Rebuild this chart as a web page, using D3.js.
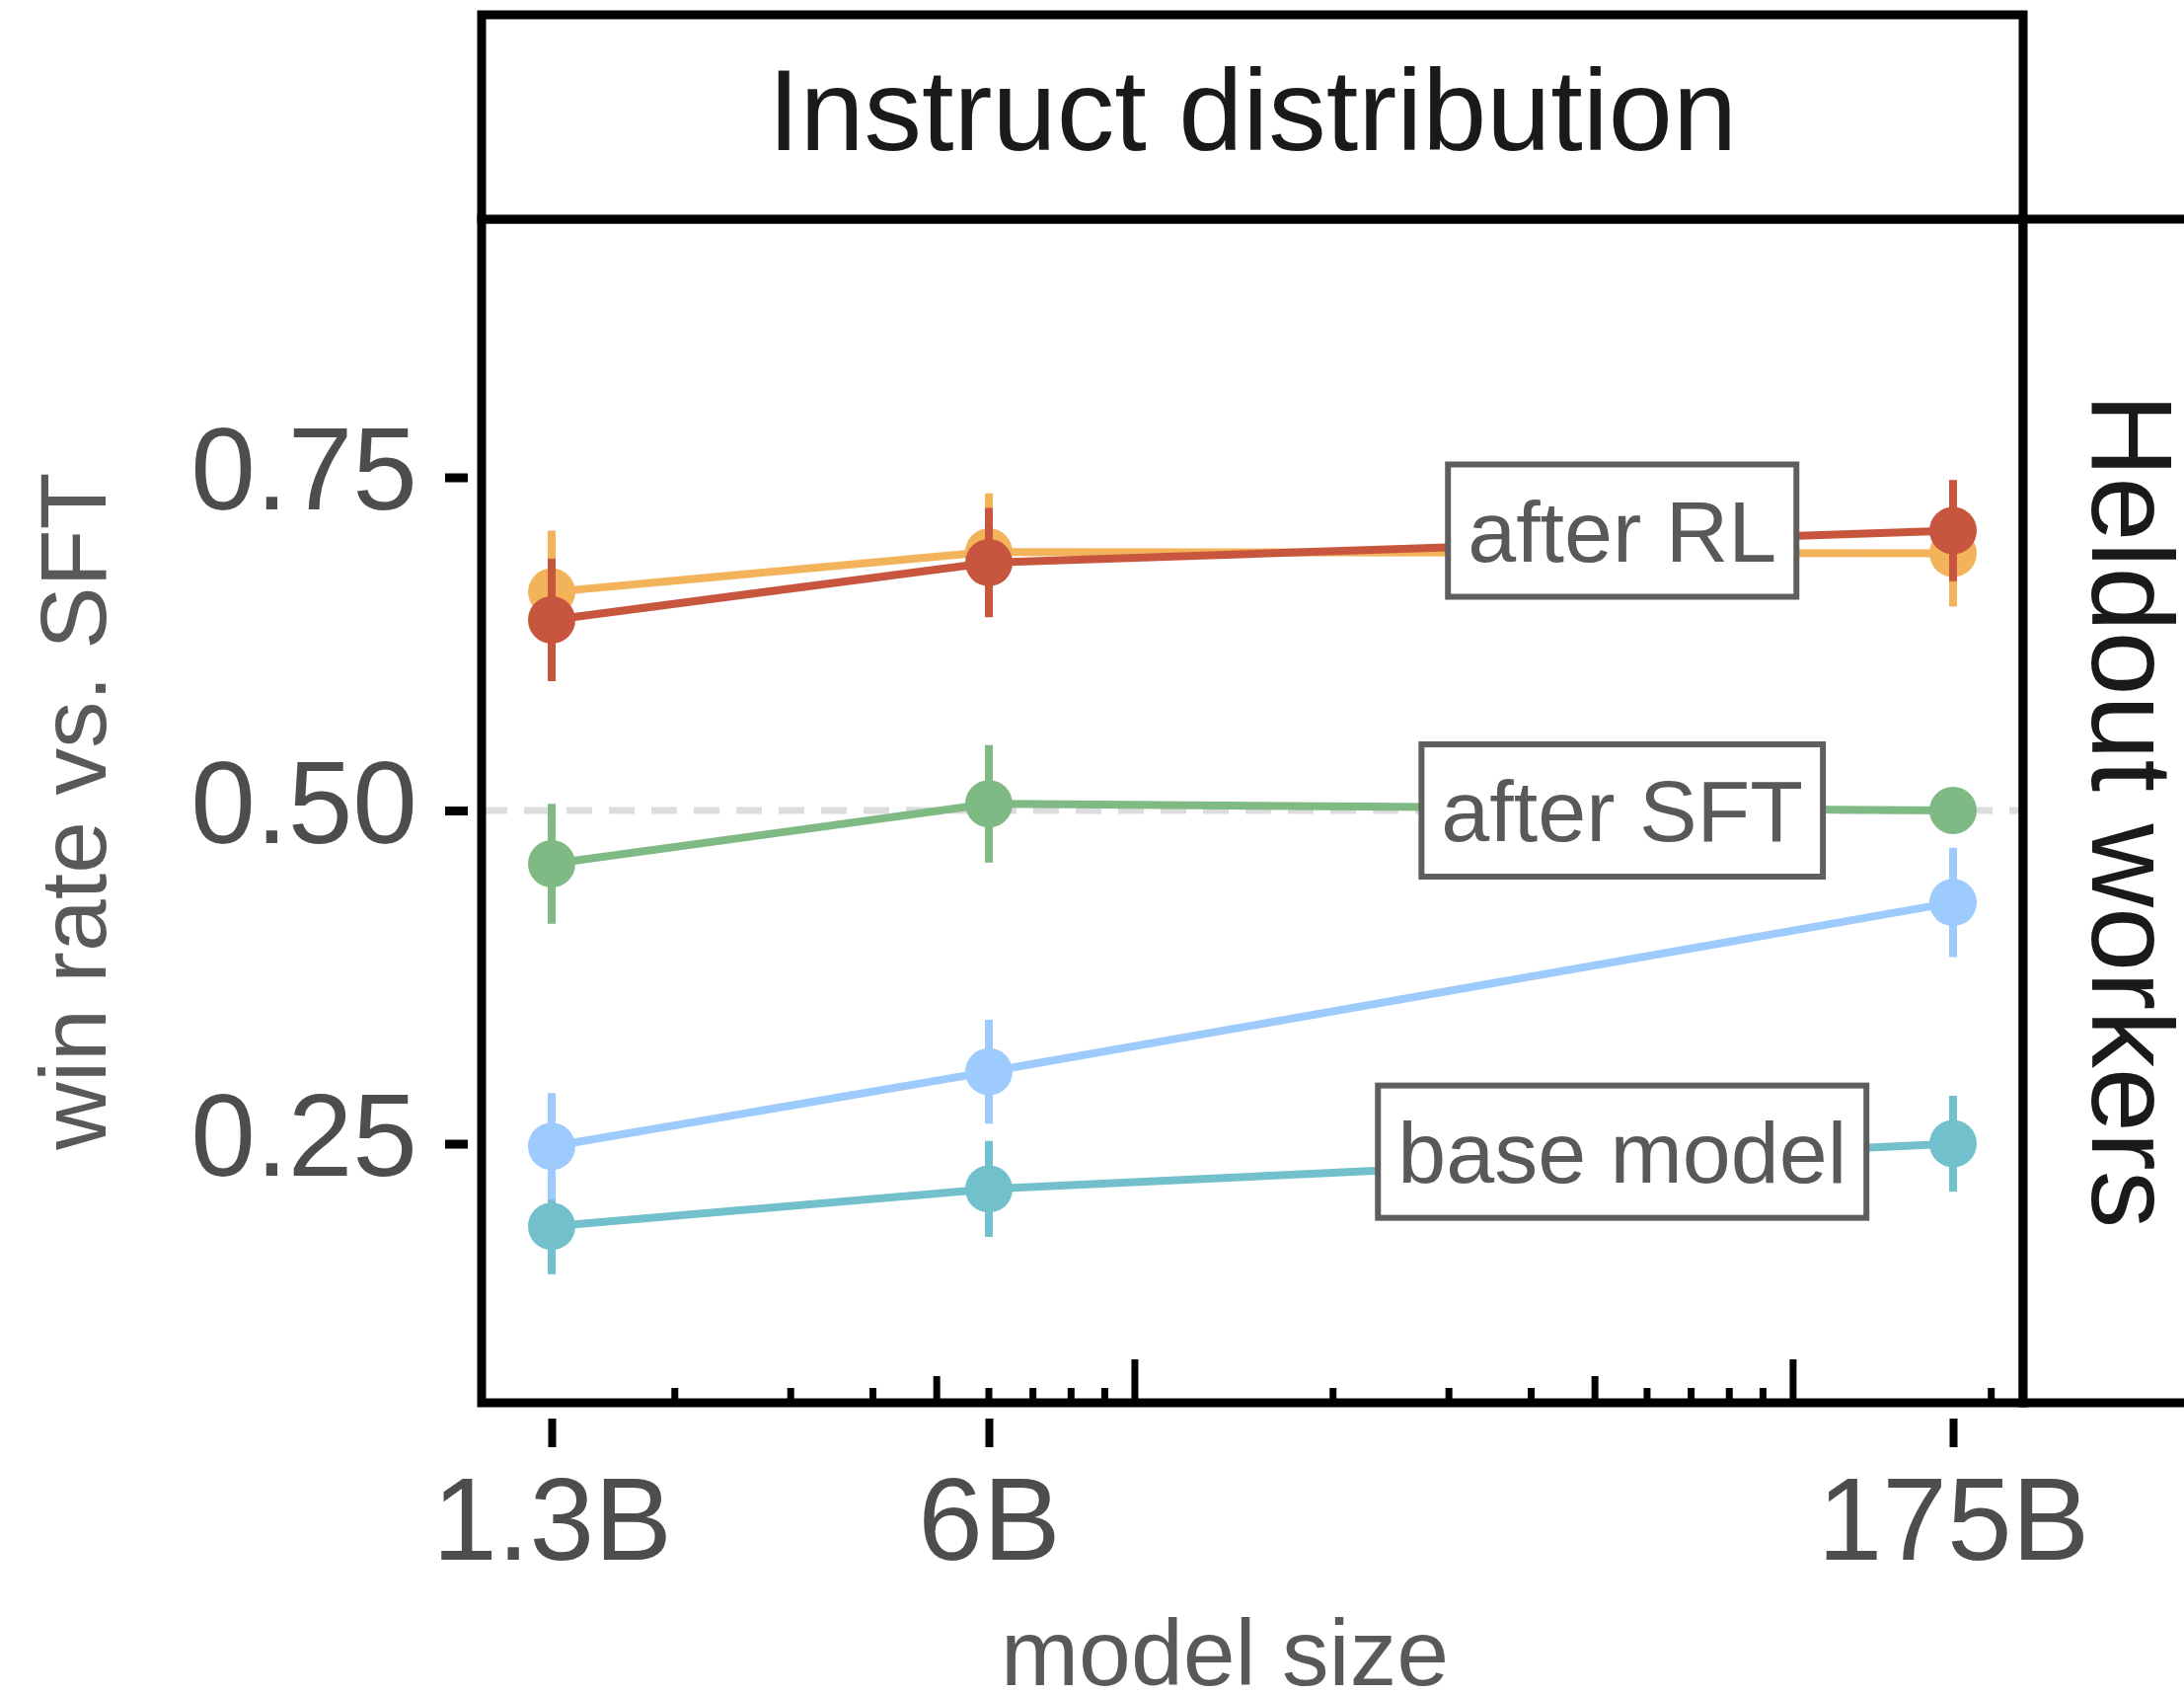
<!DOCTYPE html>
<html>
<head>
<meta charset="utf-8">
<script src="https://cdn.jsdelivr.net/npm/d3@7"></script>
<style>
  body { margin: 0; background: #fff; }
  svg text { font-family: "Liberation Sans", Arial, Helvetica, sans-serif; }
</style>
</head>
<body>
<div id="chart"></div>
<script>
// model sizes on the x axis
var sizes = [1.3e9, 6e9, 175e9];
var sizeLabels = ["1.3B", "6B", "175B"];

// win rate vs. SFT, with error bar half widths
var seriesNames = ["GPT", "GPT (prompted)", "SFT", "PPO-ptx", "PPO"];
var gptWin      = [0.188, 0.216, 0.250];
var gptErr      = [0.036, 0.036, 0.036];
var promptedWin = [0.248, 0.304, 0.431];
var promptedErr = [0.040, 0.039, 0.041];
var sftWin      = [0.460, 0.505, 0.500];
var sftErr      = [0.045, 0.044, 0.000];
var ptxWin      = [0.664, 0.694, 0.693];
var ptxErr      = [0.046, 0.044, 0.040];
var ppoWin      = [0.643, 0.686, 0.710];
var ppoErr      = [0.046, 0.041, 0.038];

var yTicks = [0.25, 0.50, 0.75];

// text labels in the panel
var labelText = ["after RL", "after SFT", "base model"];
var labelY = [0.71, 0.50, 0.244];
var labelX = 55e9;

var colors = ["#73c0cd", "#9dcbfd", "#7fba85", "#f3b35b", "#c8553d"];
var allWin = [gptWin, promptedWin, sftWin, ptxWin, ppoWin];
var allErr = [gptErr, promptedErr, sftErr, ptxErr, ppoErr];

var width = 2213, height = 1716;
var panel = { left: 488, right: 2050, top: 222, bottom: 1421 };
var border = 9;

var svg = d3.select("#chart").append("svg")
    .attr("width", width)
    .attr("height", height);

svg.append("rect")
    .attr("width", width)
    .attr("height", height)
    .attr("fill", "#fff");

// log x with 5% expansion like ggplot
var lmin = Math.log10(d3.min(sizes)), lmax = Math.log10(d3.max(sizes));
var pad = (lmax - lmin) * 0.05;
var x = d3.scaleLog()
    .domain([Math.pow(10, lmin - pad), Math.pow(10, lmax + pad)])
    .range([panel.left, panel.right]);

var y = d3.scaleLinear()
    .domain([0.0556, 0.9437])
    .range([panel.bottom, panel.top]);

// dashed reference line at 0.5
svg.append("line")
    .attr("x1", panel.left).attr("x2", panel.right)
    .attr("y1", y(0.5)).attr("y2", y(0.5))
    .attr("stroke", "#dcdcdc")
    .attr("stroke-width", 7)
    .attr("stroke-dasharray", "26,17");

// series
seriesNames.forEach(function(name, i) {
    var g = svg.append("g").attr("class", "series");
    var pts = sizes.map(function(s, j) {
        return { x: s, y: allWin[i][j], e: allErr[i][j] };
    });
    g.selectAll("line.err")
        .data(pts.filter(function(d) { return d.e > 0; }))
        .enter().append("line")
        .attr("class", "err")
        .attr("x1", function(d) { return x(d.x); })
        .attr("x2", function(d) { return x(d.x); })
        .attr("y1", function(d) { return y(d.y - d.e); })
        .attr("y2", function(d) { return y(d.y + d.e); })
        .attr("stroke", colors[i])
        .attr("stroke-width", 8);
    g.append("path")
        .datum(pts)
        .attr("fill", "none")
        .attr("stroke", colors[i])
        .attr("stroke-width", 8)
        .attr("d", d3.line()
            .x(function(d) { return x(d.x); })
            .y(function(d) { return y(d.y); }));
    g.selectAll("circle")
        .data(pts)
        .enter().append("circle")
        .attr("cx", function(d) { return x(d.x); })
        .attr("cy", function(d) { return y(d.y); })
        .attr("r", 24)
        .attr("fill", colors[i]);
});

// labels with boxes
labelText.forEach(function(t, i) {
    var g = svg.append("g");
    var cx = x(labelX), cy = y(labelY[i]);
    var rect = g.append("rect");
    var txt = g.append("text")
        .attr("x", cx)
        .attr("y", cy + 31)
        .attr("text-anchor", "middle")
        .attr("font-size", 88)
        .attr("fill", "#595959")
        .text(t);
    var w = txt.node().getComputedTextLength() + 40;
    rect.attr("x", cx - w / 2)
        .attr("y", cy - 67)
        .attr("width", w)
        .attr("height", 134)
        .attr("fill", "#fff")
        .attr("stroke", "#5e5e5e")
        .attr("stroke-width", 6);
});

// log ticks along the bottom of the panel
var minor = [];
for (var k = 9; k <= 11; k++) {
    for (var m = 1; m <= 9; m++) {
        var v = m * Math.pow(10, k);
        if (v > x.domain()[0] && v < x.domain()[1]) minor.push(v);
    }
}
svg.append("g").selectAll("line")
    .data(minor)
    .enter().append("line")
    .attr("x1", function(d) { return x(d); })
    .attr("x2", function(d) { return x(d); })
    .attr("y1", panel.bottom)
    .attr("y2", function(d) {
        var m = Math.round(d / Math.pow(10, Math.floor(Math.log10(d) + 1e-9)));
        var len = m === 1 ? 44 : (m === 5 ? 27 : 15);
        return panel.bottom - len;
    })
    .attr("stroke", "#000")
    .attr("stroke-width", 7);

// panel border
svg.append("rect")
    .attr("x", panel.left).attr("y", panel.top)
    .attr("width", panel.right - panel.left)
    .attr("height", panel.bottom - panel.top)
    .attr("fill", "none")
    .attr("stroke", "#000")
    .attr("stroke-width", border);

// top strip
svg.append("rect")
    .attr("x", panel.left).attr("y", 15)
    .attr("width", panel.right - panel.left)
    .attr("height", panel.top - 15)
    .attr("fill", "#fff")
    .attr("stroke", "#000")
    .attr("stroke-width", border);
svg.append("text")
    .attr("x", (panel.left + panel.right) / 2)
    .attr("y", 152)
    .attr("text-anchor", "middle")
    .attr("font-size", 117)
    .attr("fill", "#1a1a1a")
    .text("Instruct distribution");

// right strip (runs past the edge of the picture)
svg.append("rect")
    .attr("x", panel.right).attr("y", panel.top)
    .attr("width", panel.top - 15)
    .attr("height", panel.bottom - panel.top)
    .attr("fill", "#fff")
    .attr("stroke", "#000")
    .attr("stroke-width", border);
svg.append("text")
    .attr("transform", "translate(2120," + (panel.top + panel.bottom) / 2 + ") rotate(90)")
    .attr("text-anchor", "middle")
    .attr("font-size", 117)
    .attr("fill", "#1a1a1a")
    .text("Heldout workers");

// x axis
var xAxis = svg.append("g")
    .attr("transform", "translate(0,1437)")
    .call(d3.axisBottom(x)
        .tickValues(sizes)
        .tickFormat(function(d, i) { return sizeLabels[i]; })
        .tickSizeInner(29)
        .tickSizeOuter(0));
xAxis.select(".domain").remove();
xAxis.selectAll(".tick line").attr("stroke", "#000").attr("stroke-width", 8);
xAxis.selectAll(".tick text")
    .attr("y", 143)
    .attr("dy", null)
    .attr("font-size", 118)
    .attr("font-family", "Liberation Sans, Arial, sans-serif")
    .attr("fill", "#4d4d4d");

// y axis
var yAxis = svg.append("g")
    .attr("transform", "translate(474,0)")
    .call(d3.axisLeft(y)
        .tickValues(yTicks)
        .tickFormat(d3.format(".2f"))
        .tickSizeInner(23)
        .tickSizeOuter(0));
yAxis.select(".domain").remove();
yAxis.selectAll(".tick line").attr("stroke", "#000").attr("stroke-width", 9);
yAxis.selectAll(".tick text")
    .attr("x", -51)
    .attr("dy", 32)
    .attr("font-size", 118)
    .attr("font-family", "Liberation Sans, Arial, sans-serif")
    .attr("fill", "#4d4d4d");

// axis titles
svg.append("text")
    .attr("x", 1241)
    .attr("y", 1707)
    .attr("text-anchor", "middle")
    .attr("font-size", 95)
    .attr("fill", "#595959")
    .text("model size");

svg.append("text")
    .attr("transform", "translate(107," + (panel.top + panel.bottom) / 2 + ") rotate(-90)")
    .attr("text-anchor", "middle")
    .attr("font-size", 95)
    .attr("fill", "#595959")
    .text("win rate vs. SFT");
</script>
</body>
</html>
